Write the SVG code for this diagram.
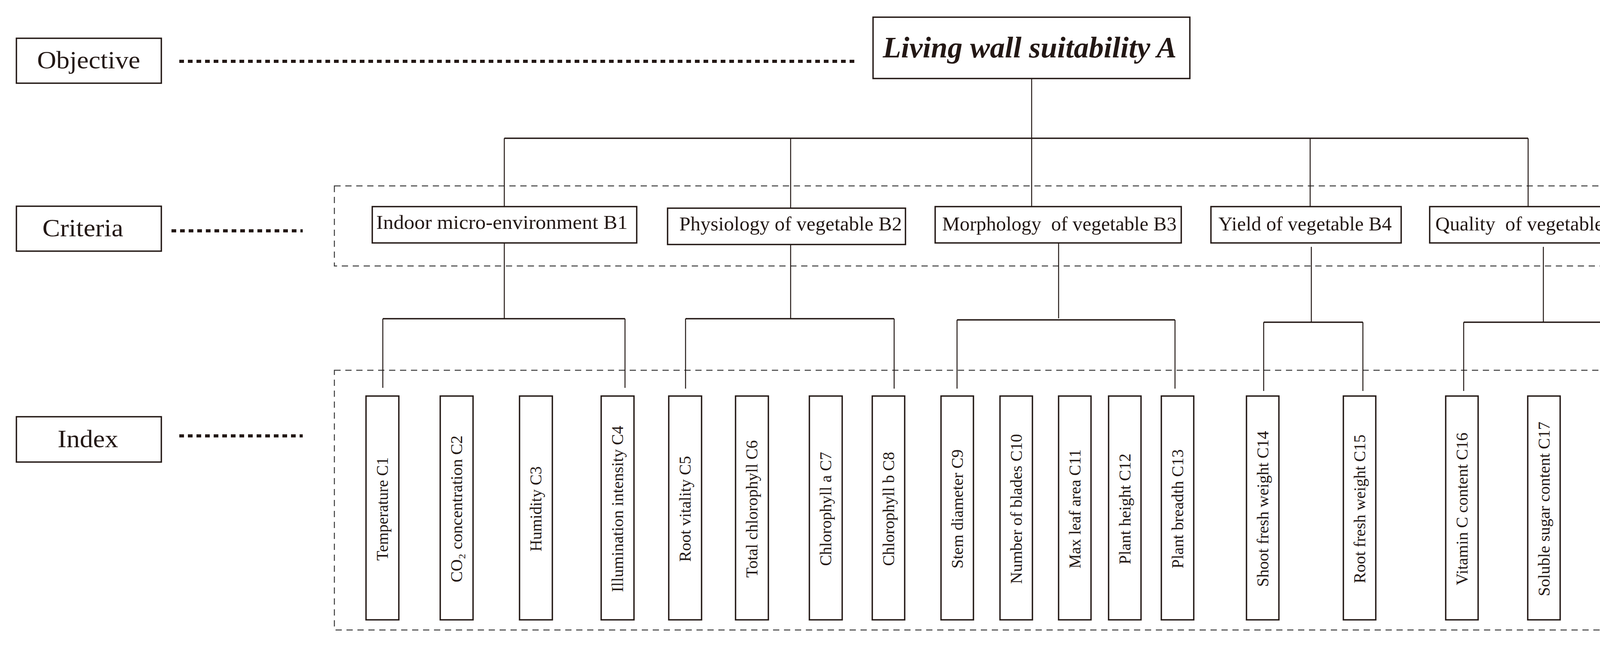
<svg xmlns="http://www.w3.org/2000/svg" width="4312" height="1654" viewBox="0 0 4312 1654">
<style>
.box{fill:#fff;stroke:#231815;stroke-width:3.5}
.ln{stroke:#231815;stroke-width:2.5;fill:none}
.bus{stroke:#231815;stroke-width:3.5;fill:none}
.dot{stroke:#231815;stroke-width:8;stroke-dasharray:12 10;fill:none}
.dash{stroke:#3a3a3a;stroke-width:2.5;stroke-dasharray:16 12;fill:none}
text{font-family:"Liberation Serif","Times New Roman",serif;fill:#231815}
.lbl{font-size:64px}
.b{font-size:50px}
.c{font-size:42px}
</style>
<rect width="4312" height="1654" fill="#fff"/>
<g id="frames">
<rect class="dash" x="856" y="476" width="3401" height="205"/>
<rect class="dash" x="856" y="948" width="3401" height="665"/>
</g>
<g id="connectors">
<line class="dot" x1="459" y1="157" x2="2195" y2="157"/>
<line class="dot" x1="439" y1="591" x2="775" y2="591"/>
<line class="dot" x1="459" y1="1116" x2="775" y2="1116"/>
<path class="ln" d="M2641 201V354"/>
<path class="bus" d="M1291 354H3912"/>
<path class="ln" d="M1291 354V529M2024 354V533M2641 354V529M3354 354V529M3912 354V532"/>
<path class="ln" d="M1291 622V816M2024 626V816M2710 622V815M3357 632V825M3951 632V825"/>
<path class="bus" d="M980 816H1600M1755 816H2289M2450 819H3008M3235 825H3489M3747 825H4169"/>
<path class="ln" d="M980 816V993M1600 816V993M1755 816V995M2289 816V995M2450 819V995M3008 819V995M3235 825V1001M3489 825V1001M3747 825V1001M4169 825V1003"/>
</g>
<g id="objective"><rect class="box" x="42" y="98" width="371" height="115"/><text class="lbl" x="227" y="175" text-anchor="middle" textLength="264" lengthAdjust="spacingAndGlyphs">Objective</text></g>
<g id="criteria"><rect class="box" x="42" y="528" width="371" height="115"/><text class="lbl" x="212" y="605" text-anchor="middle" textLength="207" lengthAdjust="spacingAndGlyphs">Criteria</text></g>
<g id="index"><rect class="box" x="42" y="1067" width="371" height="116"/><text class="lbl" x="225" y="1145" text-anchor="middle" textLength="155" lengthAdjust="spacingAndGlyphs">Index</text></g>
<g id="A"><rect class="box" x="2235" y="44" width="811" height="157"/><text x="2636" y="147" text-anchor="middle" font-size="76" font-weight="bold" font-style="italic" textLength="752" lengthAdjust="spacingAndGlyphs">Living wall suitability A</text></g>
<g id="B1"><rect class="box" x="953" y="529" width="677" height="93"/><text class="b" x="1285" y="586" text-anchor="middle" textLength="644" lengthAdjust="spacingAndGlyphs">Indoor micro-environment B1</text></g>
<g id="B2"><rect class="box" x="1709" y="533" width="609" height="93"/><text class="b" x="2024" y="590" text-anchor="middle" textLength="570" lengthAdjust="spacingAndGlyphs">Physiology of vegetable B2</text></g>
<g id="B3"><rect class="box" x="2394" y="529" width="630" height="93"/><text class="b" x="2712" y="590" text-anchor="middle" textLength="600" lengthAdjust="spacingAndGlyphs" xml:space="preserve">Morphology  of vegetable B3</text></g>
<g id="B4"><rect class="box" x="3100" y="529" width="487" height="93"/><text class="b" x="3341" y="590" text-anchor="middle" textLength="444" lengthAdjust="spacingAndGlyphs">Yield of vegetable B4</text></g>
<g id="B5"><rect class="box" x="3660" y="529" width="549" height="93"/><text class="b" x="3926" y="590" text-anchor="middle" textLength="503" lengthAdjust="spacingAndGlyphs" xml:space="preserve">Quality  of vegetable B5</text></g>
<g id="C1"><rect class="box" x="937" y="1014" width="84" height="573"/><text class="c" transform="translate(993,1303) rotate(-90)" text-anchor="middle" textLength="265" lengthAdjust="spacingAndGlyphs">Temperature C1</text></g>
<g id="C2"><rect class="box" x="1127" y="1014" width="84" height="573"/><text class="c" transform="translate(1183,1303) rotate(-90)" text-anchor="middle" textLength="376" lengthAdjust="spacingAndGlyphs">CO₂ concentration C2</text></g>
<g id="C3"><rect class="box" x="1330" y="1014" width="84" height="573"/><text class="c" transform="translate(1386,1303) rotate(-90)" text-anchor="middle" textLength="218" lengthAdjust="spacingAndGlyphs">Humidity C3</text></g>
<g id="C4"><rect class="box" x="1539" y="1014" width="84" height="573"/><text class="c" transform="translate(1595,1303) rotate(-90)" text-anchor="middle" textLength="426" lengthAdjust="spacingAndGlyphs">Illumination intensity C4</text></g>
<g id="C5"><rect class="box" x="1712" y="1014" width="84" height="573"/><text class="c" transform="translate(1768,1303) rotate(-90)" text-anchor="middle" textLength="271" lengthAdjust="spacingAndGlyphs">Root vitality C5</text></g>
<g id="C6"><rect class="box" x="1883" y="1014" width="84" height="573"/><text class="c" transform="translate(1939,1303) rotate(-90)" text-anchor="middle" textLength="352" lengthAdjust="spacingAndGlyphs">Total chlorophyll C6</text></g>
<g id="C7"><rect class="box" x="2072" y="1014" width="84" height="573"/><text class="c" transform="translate(2128,1303) rotate(-90)" text-anchor="middle" textLength="292" lengthAdjust="spacingAndGlyphs">Chlorophyll a C7</text></g>
<g id="C8"><rect class="box" x="2233" y="1014" width="83" height="573"/><text class="c" transform="translate(2289,1303) rotate(-90)" text-anchor="middle" textLength="292" lengthAdjust="spacingAndGlyphs">Chlorophyll b C8</text></g>
<g id="C9"><rect class="box" x="2409" y="1014" width="83" height="573"/><text class="c" transform="translate(2465,1303) rotate(-90)" text-anchor="middle" textLength="305" lengthAdjust="spacingAndGlyphs">Stem diameter C9</text></g>
<g id="C10"><rect class="box" x="2560" y="1014" width="83" height="573"/><text class="c" transform="translate(2616,1303) rotate(-90)" text-anchor="middle" textLength="384" lengthAdjust="spacingAndGlyphs">Number of blades C10</text></g>
<g id="C11"><rect class="box" x="2710" y="1014" width="83" height="573"/><text class="c" transform="translate(2766,1303) rotate(-90)" text-anchor="middle" textLength="305" lengthAdjust="spacingAndGlyphs">Max leaf area C11</text></g>
<g id="C12"><rect class="box" x="2838" y="1014" width="83" height="573"/><text class="c" transform="translate(2894,1303) rotate(-90)" text-anchor="middle" textLength="284" lengthAdjust="spacingAndGlyphs">Plant height C12</text></g>
<g id="C13"><rect class="box" x="2973" y="1014" width="83" height="573"/><text class="c" transform="translate(3029,1303) rotate(-90)" text-anchor="middle" textLength="305" lengthAdjust="spacingAndGlyphs">Plant breadth C13</text></g>
<g id="C14"><rect class="box" x="3191" y="1014" width="83" height="573"/><text class="c" transform="translate(3247,1303) rotate(-90)" text-anchor="middle" textLength="399" lengthAdjust="spacingAndGlyphs">Shoot fresh weight C14</text></g>
<g id="C15"><rect class="box" x="3439" y="1014" width="83" height="573"/><text class="c" transform="translate(3495,1303) rotate(-90)" text-anchor="middle" textLength="381" lengthAdjust="spacingAndGlyphs">Root fresh weight C15</text></g>
<g id="C16"><rect class="box" x="3701" y="1014" width="83" height="573"/><text class="c" transform="translate(3757,1303) rotate(-90)" text-anchor="middle" textLength="391" lengthAdjust="spacingAndGlyphs">Vitamin C content C16</text></g>
<g id="C17"><rect class="box" x="3911" y="1014" width="83" height="573"/><text class="c" transform="translate(3967,1303) rotate(-90)" text-anchor="middle" textLength="447" lengthAdjust="spacingAndGlyphs">Soluble sugar content C17</text></g>
<g id="C18"><rect class="box" x="4123" y="1014" width="83" height="573"/><text class="c" transform="translate(4179,1303) rotate(-90)" text-anchor="middle" textLength="486" lengthAdjust="spacingAndGlyphs">Nitrate nitrogen content C18</text></g>
</svg>
